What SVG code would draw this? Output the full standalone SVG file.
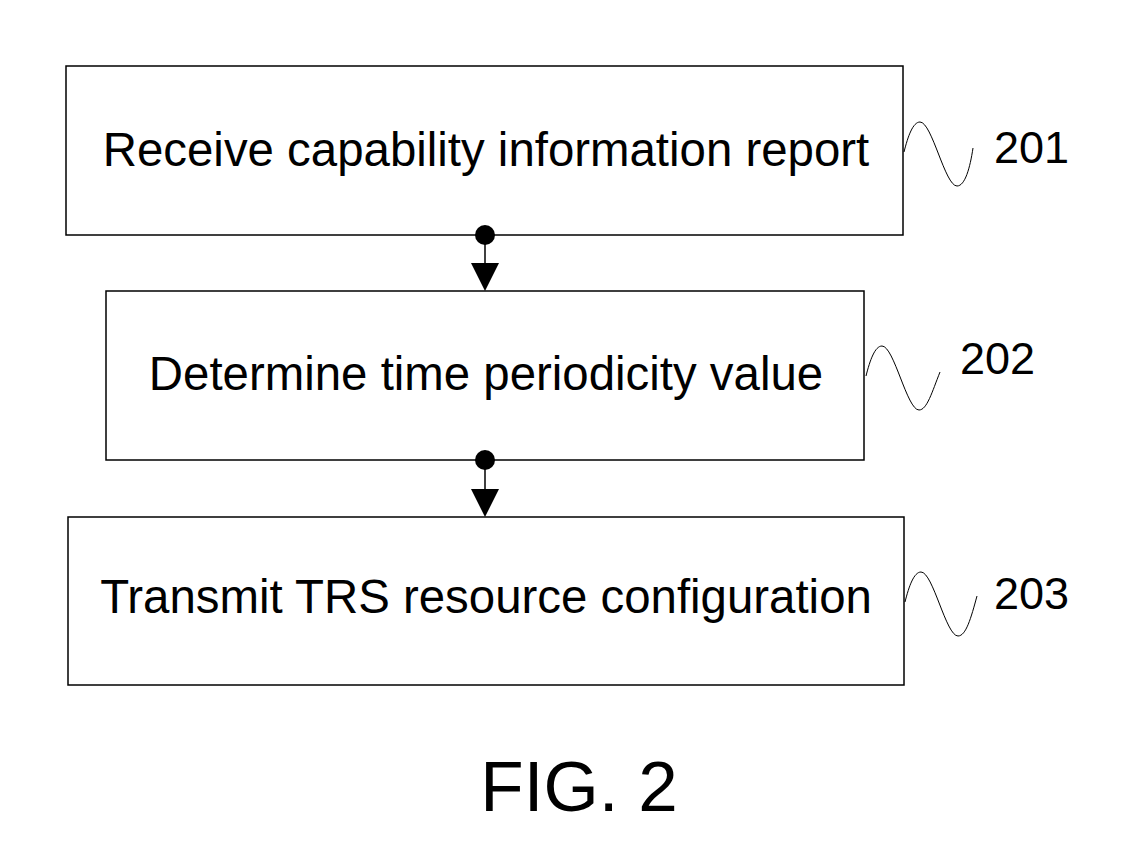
<svg xmlns="http://www.w3.org/2000/svg" width="1122" height="858" viewBox="0 0 1122 858">
<style>
.box{fill:#fff;stroke:#000;stroke-width:1.5}
.t{font-family:"Liberation Sans",Arial,sans-serif;font-size:47.4px;fill:#000;text-anchor:middle}
.lbl{font-family:"Liberation Sans",Arial,sans-serif;font-size:45px;fill:#000}
.wave{fill:none;stroke:#000;stroke-width:1}
.conn{stroke:#000;stroke-width:1.5}
</style>
<rect width="1122" height="858" fill="#fff"/>
<g id="node201">
<rect class="box" x="66" y="66" width="837" height="169"/>
<text class="t" x="486" y="166">Receive capability information report</text>
<path class="wave" d="M904,152 C908,136 913,122 920,122 C932,122 945,186 957,186 C965,186 970,168 973,148"/>
<text class="lbl" x="994" y="163">201</text>
</g>
<g id="node202">
<rect class="box" x="106" y="291" width="758" height="169"/>
<text class="t" x="486" y="390">Determine time periodicity value</text>
<path class="wave" d="M866,376 C870,360 875,346 882,346 C894,346 907,410 919,410 C927,410 932,392 940,372"/>
<text class="lbl" x="960" y="374">202</text>
</g>
<g id="node203">
<rect class="box" x="68" y="517" width="836" height="168"/>
<text class="t" x="486" y="613">Transmit TRS resource configuration</text>
<path class="wave" d="M905,602 C909,586 914,572 921,572 C933,572 946,636 958,636 C966,636 971,618 977,596"/>
<text class="lbl" x="994" y="609">203</text>
</g>
<g id="connectors">
<circle cx="485" cy="235" r="10" fill="#000"/>
<line class="conn" x1="485" y1="235" x2="485" y2="265"/>
<path d="M471,263 L499,263 L485,291 Z" fill="#000"/>
<circle cx="485" cy="460" r="10" fill="#000"/>
<line class="conn" x1="485" y1="460" x2="485" y2="490"/>
<path d="M471,489 L499,489 L485,517 Z" fill="#000"/>
</g>
<text x="579" y="811" font-family="Liberation Sans, Arial, sans-serif" font-size="71" text-anchor="middle">FIG. 2</text>
</svg>
